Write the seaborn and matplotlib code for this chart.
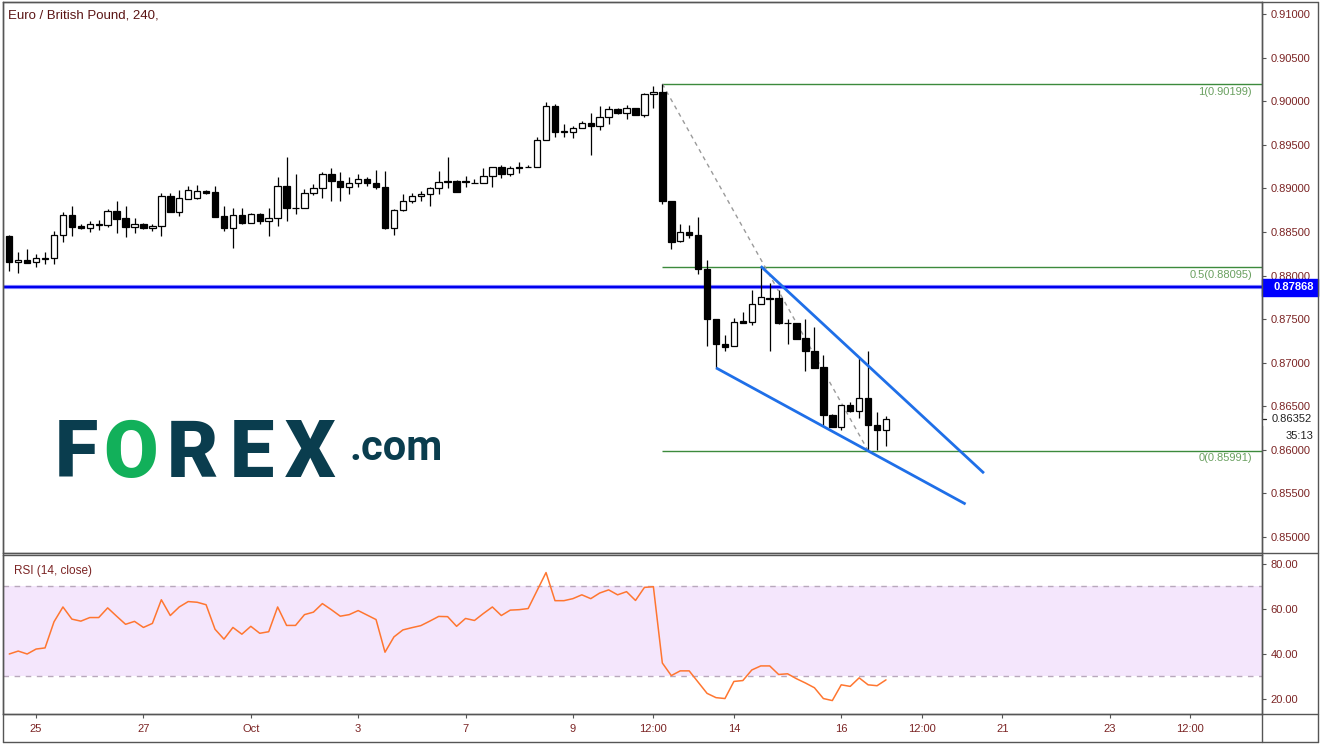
import numpy as np
import pandas as pd
import matplotlib
matplotlib.use('Agg')
import matplotlib.pyplot as plt
import seaborn as sns
from matplotlib.lines import Line2D
from matplotlib.patches import Rectangle
from matplotlib.transforms import blended_transform_factory

# EUR/GBP 4h candles, Sep 24 12:00 -> Oct 16 20:00 (one bar per 4 hours, no weekends)
opens = [0.8845, 0.8816, 0.8818, 0.8815, 0.8819, 0.8820, 0.8847, 0.8870, 0.8857, 0.8854,
         0.8858, 0.8858, 0.8874, 0.8866, 0.8856, 0.8859, 0.8854, 0.8857, 0.8891, 0.8873,
         0.8888, 0.8889, 0.8897, 0.8896, 0.8868, 0.8854, 0.8870, 0.8860, 0.8871, 0.8863,
         0.8866, 0.8903, 0.8878, 0.8878, 0.8895, 0.8900, 0.8917, 0.8909, 0.8901, 0.8906,
         0.8911, 0.8906, 0.8901, 0.8855, 0.8875, 0.8886, 0.8891, 0.8893, 0.8900, 0.8908,
         0.8908, 0.8908, 0.8906, 0.8906, 0.8914, 0.8924, 0.8916, 0.8924, 0.8925, 0.8925,
         0.8955, 0.8995, 0.8965, 0.8965, 0.8969, 0.8975, 0.8972, 0.8982, 0.8991, 0.8986,
         0.8992, 0.8984, 0.9008, 0.9010, 0.8885, 0.8840, 0.8850, 0.8847, 0.8807, 0.8750,
         0.8722, 0.8719, 0.8748, 0.8747, 0.8767, 0.8774, 0.8774, 0.8746, 0.8745, 0.8728,
         0.8714, 0.8695, 0.8640, 0.8626, 0.8651, 0.8645, 0.8660, 0.8629, 0.8623]
highs = [0.8846, 0.8827, 0.8830, 0.8825, 0.8827, 0.8851, 0.8873, 0.8880, 0.8859, 0.8863,
         0.8864, 0.8876, 0.8885, 0.8880, 0.8866, 0.8860, 0.8859, 0.8895, 0.8895, 0.8898,
         0.8903, 0.8904, 0.8898, 0.8903, 0.8880, 0.8877, 0.8878, 0.8872, 0.8872, 0.8878,
         0.8913, 0.8936, 0.8917, 0.8899, 0.8905, 0.8919, 0.8923, 0.8919, 0.8913, 0.8916,
         0.8913, 0.8921, 0.8920, 0.8876, 0.8893, 0.8895, 0.8897, 0.8901, 0.8920, 0.8936,
         0.8910, 0.8914, 0.8911, 0.8923, 0.8925, 0.8927, 0.8926, 0.8930, 0.8927, 0.8959,
         0.8999, 0.8997, 0.8974, 0.8971, 0.8977, 0.8986, 0.8994, 0.8994, 0.8992, 0.8996,
         0.8992, 0.9009, 0.9018, 0.90199, 0.8885, 0.8859, 0.8858, 0.8867, 0.8818, 0.8750,
         0.8732, 0.8751, 0.8758, 0.8783, 0.88107, 0.8792, 0.8783, 0.8750, 0.8745, 0.8750,
         0.8741, 0.8709, 0.8641, 0.8652, 0.8655, 0.8705, 0.8714, 0.8643, 0.8639]
lows = [0.8805, 0.8803, 0.8814, 0.8810, 0.8813, 0.8813, 0.8838, 0.8845, 0.8853, 0.8850,
        0.8852, 0.8856, 0.8849, 0.8844, 0.8849, 0.8853, 0.8851, 0.8845, 0.8873, 0.8868,
        0.8888, 0.8888, 0.8894, 0.8867, 0.8851, 0.8832, 0.8859, 0.8860, 0.8859, 0.8845,
        0.8857, 0.8862, 0.8871, 0.8877, 0.8892, 0.8889, 0.8886, 0.8886, 0.8894, 0.8902,
        0.8903, 0.8899, 0.8853, 0.8847, 0.8874, 0.8883, 0.8886, 0.8880, 0.8893, 0.8900,
        0.8896, 0.8901, 0.8906, 0.8906, 0.8902, 0.8912, 0.8914, 0.8918, 0.8924, 0.8925,
        0.8955, 0.8959, 0.8959, 0.8958, 0.8969, 0.8938, 0.8967, 0.8974, 0.8985, 0.8980,
        0.8984, 0.8982, 0.8992, 0.8882, 0.8830, 0.8838, 0.8843, 0.8802, 0.8719, 0.86941,
        0.8713, 0.8719, 0.8745, 0.8743, 0.8767, 0.8713, 0.8744, 0.8722, 0.8727, 0.8690,
        0.8694, 0.8627, 0.8626, 0.8623, 0.8643, 0.8636, 0.85991, 0.8600, 0.8604]
closes = [0.8816, 0.8818, 0.8814, 0.8820, 0.8820, 0.8847, 0.8870, 0.8856, 0.8854, 0.8859,
          0.8859, 0.8874, 0.8865, 0.8856, 0.8859, 0.8854, 0.8857, 0.8891, 0.8873, 0.8889,
          0.8898, 0.8897, 0.8895, 0.8867, 0.8854, 0.8870, 0.8860, 0.8871, 0.8863, 0.8866,
          0.8903, 0.8878, 0.8878, 0.8895, 0.8900, 0.8917, 0.8909, 0.8901, 0.8906, 0.8911,
          0.8906, 0.8901, 0.8855, 0.8875, 0.8886, 0.8891, 0.8893, 0.8900, 0.8907, 0.8907,
          0.8896, 0.8907, 0.8906, 0.8914, 0.8924, 0.8916, 0.8923, 0.8923, 0.8924, 0.8955,
          0.8995, 0.8965, 0.8966, 0.8969, 0.8975, 0.8972, 0.8982, 0.8991, 0.8986, 0.8992,
          0.8984, 0.9008, 0.9010, 0.8885, 0.8839, 0.8850, 0.8846, 0.8807, 0.8750, 0.8722,
          0.8718, 0.8747, 0.8746, 0.8767, 0.8775, 0.8773, 0.8745, 0.8746, 0.8727, 0.8714,
          0.8694, 0.8640, 0.8626, 0.8651, 0.8645, 0.8659, 0.8629, 0.8623, 0.86352]

rsi = [40.0, 41.3, 40.0, 42.2, 42.7, 54.3, 60.9, 55.5, 54.6, 56.2,
       56.2, 60.5, 56.8, 53.2, 54.5, 51.8, 53.6, 64.1, 57.1, 60.9,
       63.3, 63.0, 61.9, 51.0, 46.6, 51.8, 48.8, 52.3, 49.2, 49.9,
       60.9, 52.7, 52.7, 57.5, 58.6, 62.4, 59.7, 56.8, 57.5, 59.3,
       57.3, 55.3, 40.8, 47.6, 50.7, 51.7, 52.6, 54.6, 56.7, 56.6,
       52.3, 55.8, 54.9, 58.0, 60.9, 57.1, 59.5, 59.7, 60.2, 68.2,
       76.2, 63.7, 63.7, 64.6, 66.3, 64.6, 67.1, 68.5, 66.3, 67.7,
       63.8, 69.6, 69.9, 36.0, 30.4, 32.5, 32.5, 27.5, 22.5, 20.6,
       20.2, 27.8, 28.2, 32.9, 34.7, 34.7, 30.9, 31.2, 29.0, 27.1,
       25.0, 20.2, 19.3, 26.3, 25.6, 29.4, 26.3, 25.9, 28.5]

# time axis labels (positions in bars)
tick_pos = [3, 15, 27, 39, 51, 63, 72, 81, 93, 102, 111, 123, 132]
tick_labels = ['25', '27', 'Oct', '3', '7', '9', '12:00', '14', '16', '12:00', '21', '23', '12:00']
price_ticks = [0.850, 0.855, 0.860, 0.865, 0.870, 0.875, 0.880, 0.885, 0.890, 0.895, 0.900, 0.905, 0.910]
rsi_ticks = [20, 40, 60, 80]

# drawings
fib_levels = [0.90199, 0.88095, 0.85991]
fib_names = ['1', '0.5', '0']
fib_start = 73
support = 0.87868
last_price = 0.86352
countdown = '35:13'
diag_x, diag_y = [73, 96], [0.90199, 0.85991]
wedge_up_x, wedge_up_y = [84, 108.95], [0.88107, 0.85733]
wedge_lo_x, wedge_lo_y = [79, 106.9], [0.86941, 0.85378]

W, H = 1323, 747
XMIN, XMAX = -0.7, 140.03

sns.set_theme(style='white')
plt.rcParams['font.family'] = ['Liberation Sans', 'DejaVu Sans']

maroon = '#7b2424'
gray = '#555555'

fig = plt.figure(figsize=(W / 100, H / 100), dpi=100)
ax = fig.add_axes([3 / W, 1 - 553 / H, 1259 / W, 551 / H])
ax_r = fig.add_axes([3 / W, 1 - 714 / H, 1259 / W, 159 / H], sharex=ax)

df = pd.DataFrame({'o': opens, 'h': highs, 'l': lows, 'c': closes})
df['i'] = np.arange(len(df))
up = df['c'] >= df['o']

# candles
ax.vlines(df['i'], df['l'], df['h'], color='black', lw=0.9, zorder=3)
ax.bar(df['i'], (df['c'] - df['o']).abs(), bottom=np.minimum(df['o'], df['c']), width=0.72,
       color=np.where(up, 'white', 'black'), edgecolor='black', linewidth=0.9, zorder=4)

# fib retracement
for lvl, name in zip(fib_levels, fib_names):
    ax.hlines(lvl, fib_start, XMAX, color='#3c8a3c', lw=1.0, zorder=2)
    ax.annotate(f'{name}({lvl:.5f})', xy=(138.9, lvl), xytext=(0, -2), textcoords='offset points',
                ha='right', va='top', fontsize=8, color='#6aa060')
ax.plot(diag_x, diag_y, color='#9a9a9a', lw=1.0, ls=(0, (3, 3)), zorder=2)

# wedge
ax.plot(wedge_up_x, wedge_up_y, color='#1f6fe8', lw=2.0, zorder=5, solid_capstyle='butt')
ax.plot(wedge_lo_x, wedge_lo_y, color='#1f6fe8', lw=2.0, zorder=5, solid_capstyle='butt')

# support line
ax.axhline(support, color='#8a8aff', lw=3.0, zorder=2)
ax.axhline(support, color='#0000ee', lw=1.6, zorder=2)

ax.set_xlim(XMIN, XMAX)
ax.set_ylim(0.84817, 0.91138)
ax.yaxis.tick_right()
ax.set_yticks(price_ticks)
ax.set_yticklabels([f'{t:.5f}' for t in price_ticks])
ax.tick_params(axis='y', direction='out', length=3, width=0.8, pad=3, labelsize=8,
               color=gray, labelcolor=maroon, right=True)
ax.tick_params(axis='x', bottom=False, labelbottom=False)
for s in ax.spines.values():
    s.set_color(gray)
    s.set_linewidth(1.0)

# price scale labels
tr = blended_transform_factory(ax.transAxes, ax.transData)
box_h = 17 / 8717
ax.add_patch(Rectangle((1.0, support - box_h / 2), 56 / 1259, box_h, transform=tr,
                       color='#0000ff', clip_on=False, zorder=10))
ax.text(1.0 + 11 / 1259, support, f'{support:.5f}', transform=tr, color='white', fontsize=8,
        fontweight='bold', va='center', ha='left', zorder=11, clip_on=False)
ax.add_patch(Rectangle((1.0 + 1 / 1259, last_price - 6 / 8717), 55 / 1259, 12 / 8717, transform=tr,
                       color='white', clip_on=False, zorder=10))
ax.text(1.0 + 10 / 1259, last_price, f'{last_price:.5f}', transform=tr, color='#222222', fontsize=8,
        va='center', ha='left', zorder=11, clip_on=False)
ax.plot([1.0, 1.0 + 4 / 1259], [last_price, last_price], transform=tr, color='#222222', lw=0.9,
        clip_on=False, zorder=11)
ax.annotate(countdown, xy=(1.0 + 51 / 1259, last_price), xycoords=tr, xytext=(0, -12),
            textcoords='offset points', color='#222222', fontsize=8, ha='right', va='center',
            zorder=11)

# RSI panel
ax_r.axhspan(30, 70, color='#f4e6fc', zorder=0, lw=0)
ax_r.axhline(70, color='#b8a8bc', lw=1.0, ls=(0, (4, 4)), zorder=1)
ax_r.axhline(30, color='#b8a8bc', lw=1.0, ls=(0, (4, 4)), zorder=1)
sns.lineplot(x=df['i'], y=rsi, ax=ax_r, color='#ff7630', lw=1.1, zorder=3)
ax_r.set_ylim(13.33, 84.0)
ax_r.set_xlim(XMIN, XMAX)
ax_r.set_xlabel('')
ax_r.set_ylabel('')
ax_r.yaxis.tick_right()
ax_r.set_yticks(rsi_ticks)
ax_r.set_yticklabels([f'{t:.2f}' for t in rsi_ticks])
ax_r.set_xticks(tick_pos)
ax_r.set_xticklabels(tick_labels)
ax_r.tick_params(axis='y', direction='out', length=3, width=0.8, pad=3, labelsize=8,
                 color=gray, labelcolor=maroon, right=True)
ax_r.tick_params(axis='x', direction='out', length=3, width=0.8, pad=4, labelsize=8,
                 color=gray, labelcolor=maroon, bottom=True)
for s in ax_r.spines.values():
    s.set_color(gray)
    s.set_linewidth(1.0)
ax_r.text(11 / 1259, 1 - 16 / 159, 'RSI (14, close)', transform=ax_r.transAxes, fontsize=8.5,
          color=maroon, va='center', ha='left')

# title
fig.text(8 / W, 1 - 16 / H, 'Euro / British Pound, 240,', fontsize=9.5, color='#5a1414',
         va='center', ha='left')

# outer frame lines
def hline(y, x0=3, x1=1318):
    fig.add_artist(Line2D([x0 / W, x1 / W], [1 - y / H, 1 - y / H], color=gray, lw=1.0))

def vline(x, y0=2, y1=742):
    fig.add_artist(Line2D([x / W, x / W], [1 - y0 / H, 1 - y1 / H], color=gray, lw=1.0))

hline(2)
hline(553)
hline(714)
hline(742)
vline(3)
vline(1262)
vline(1318)

# FOREX.com logo
teal = '#0a3d4e'
green = '#12b05a'
base = 1 - 477 / H
logo = [('F', 55, teal), ('O', 103, green), ('R', 167, teal), ('E', 230, teal), ('X', 285, teal)]
for ch, xl, col in logo:
    fig.text(xl / W, base, ch, fontsize=57, fontweight='black', color=col, family='Roboto',
             ha='left', va='baseline')
fig.text(350 / W, 1 - 460 / H, '.com', fontsize=30, fontweight='bold', color=teal, family='Roboto',
         ha='left', va='baseline')

fig.savefig('out.png', dpi=100)
